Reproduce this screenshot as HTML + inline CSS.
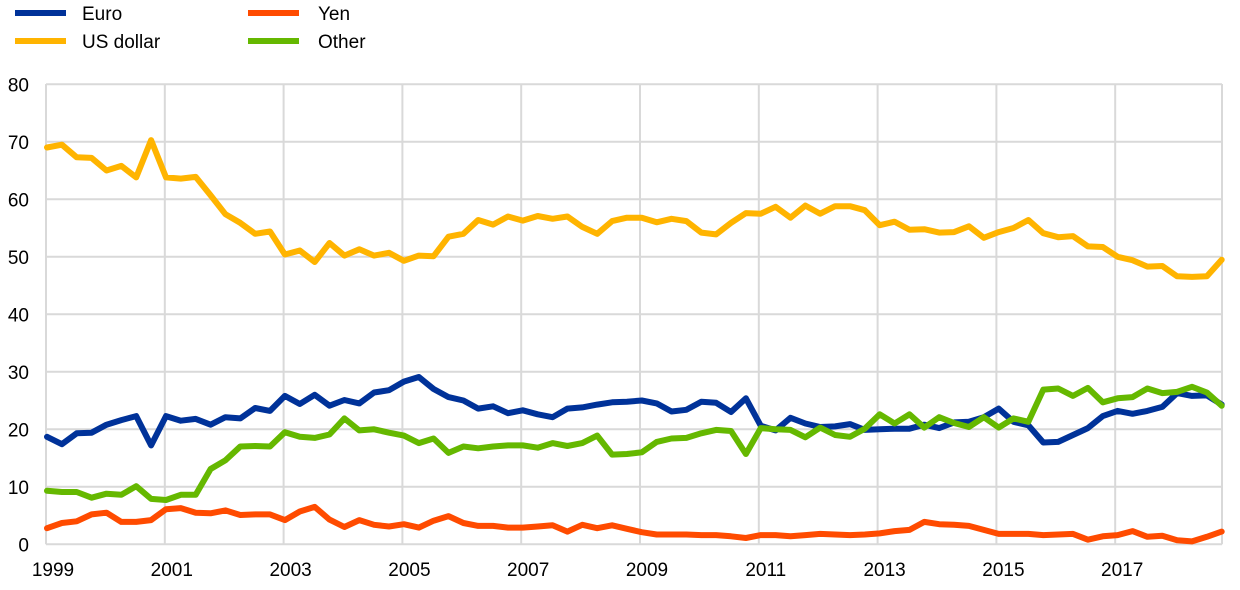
<!DOCTYPE html>
<html><head><meta charset="utf-8"><style>
html,body{margin:0;padding:0;background:#fff;}
svg{display:block;font-family:"Liberation Sans",Arial,sans-serif;}
</style></head><body>
<svg id="c" width="1240" height="590" xmlns="http://www.w3.org/2000/svg">
<g id="grid" stroke="#d9d9d9" stroke-width="2" fill="none"></g>
<g id="lab" font-size="19" fill="#000"></g>
<g id="ser" fill="none" stroke-width="6" stroke-linejoin="round" stroke-linecap="round"></g>
<g font-size="19" fill="#000">
<line x1="15" y1="13" x2="66" y2="13" stroke="#003299" stroke-width="6"/>
<text x="82" y="20">Euro</text>
<line x1="15" y1="41" x2="66" y2="41" stroke="#ffb400" stroke-width="6"/>
<text x="82" y="48">US dollar</text>
<line x1="248" y1="13" x2="299" y2="13" stroke="#ff4b00" stroke-width="6"/>
<text x="318" y="20">Yen</text>
<line x1="248" y1="41" x2="299" y2="41" stroke="#65b800" stroke-width="6"/>
<text x="318" y="48">Other</text>
</g>
</svg>
<script>
var NS="http://www.w3.org/2000/svg";
function el(p,t,a,txt){var e=document.createElementNS(NS,t);for(var k in a)e.setAttribute(k,a[k]);if(txt!=null)e.textContent=txt;document.getElementById(p).appendChild(e);}
var L=46,R=1222,Y0=544.3,S=5.75;
for(var v=0;v<=80;v+=10){var y=Y0-v*S;el("grid","line",{x1:L,x2:R,y1:y,y2:y});el("lab","text",{x:29,y:y+7,"text-anchor":"end"},v);}
for(var k=0;k<10;k++){var x=L+k*118.8;el("grid","line",{x1:x,x2:x,y1:84,y2:Y0});el("lab","text",{x:x+7,y:576,"text-anchor":"middle"},1999+2*k);}
el("grid","line",{x1:R,x2:R,y1:84,y2:Y0});
var D={
"#ffb400":[69,69.5,67.3,67.2,65,65.8,63.8,70.3,63.8,63.6,63.9,60.7,57.4,55.9,54,54.4,50.4,51.1,49.1,52.4,50.2,51.3,50.2,50.7,49.3,50.2,50.1,53.5,54.0,56.4,55.6,57.0,56.3,57.1,56.6,57.0,55.2,54.0,56.2,56.8,56.8,56.0,56.6,56.2,54.2,53.9,55.9,57.6,57.5,58.7,56.8,58.9,57.5,58.8,58.8,58.1,55.5,56.1,54.7,54.8,54.2,54.3,55.3,53.3,54.3,55.0,56.4,54.1,53.4,53.6,51.8,51.7,50.0,49.4,48.3,48.4,46.6,46.5,46.6,49.5],
"#65b800":[9.3,9.1,9.1,8.1,8.8,8.6,10.1,7.9,7.7,8.6,8.6,13.1,14.6,17.0,17.1,17.0,19.5,18.7,18.5,19.1,21.9,19.8,20.0,19.4,18.9,17.6,18.4,15.9,17.0,16.7,17.0,17.2,17.2,16.8,17.6,17.1,17.6,18.9,15.6,15.7,16.0,17.8,18.4,18.5,19.3,19.9,19.7,15.7,20.2,20.0,19.9,18.6,20.3,19.0,18.7,20.1,22.6,21.0,22.6,20.3,22.1,21.1,20.4,22.1,20.3,21.9,21.3,26.9,27.1,25.8,27.2,24.7,25.4,25.6,27.1,26.3,26.5,27.4,26.4,24.1],
"#003299":[18.7,17.4,19.3,19.4,20.8,21.6,22.3,17.2,22.3,21.5,21.8,20.8,22.1,21.9,23.7,23.2,25.8,24.4,26.0,24.1,25.1,24.5,26.4,26.8,28.3,29.1,27.0,25.6,25.0,23.6,24.0,22.8,23.3,22.6,22.1,23.6,23.8,24.3,24.7,24.8,25.0,24.5,23.1,23.4,24.8,24.6,23.0,25.4,20.6,19.8,22.0,21.0,20.4,20.5,20.9,19.9,20.0,20.1,20.1,20.8,20.2,21.2,21.3,22.1,23.6,21.3,20.7,17.7,17.8,19.0,20.2,22.3,23.2,22.7,23.2,23.9,26.3,25.8,25.9,24.3],
"#ff4b00":[2.8,3.7,4.0,5.2,5.5,3.9,3.9,4.2,6.1,6.3,5.5,5.4,5.9,5.1,5.2,5.2,4.2,5.7,6.5,4.3,3.0,4.2,3.4,3.1,3.5,2.9,4.1,4.9,3.7,3.2,3.2,2.9,2.9,3.1,3.3,2.2,3.4,2.8,3.3,2.7,2.1,1.7,1.7,1.7,1.6,1.6,1.4,1.1,1.6,1.6,1.4,1.6,1.8,1.7,1.6,1.7,1.9,2.3,2.5,3.9,3.5,3.4,3.2,2.5,1.8,1.8,1.8,1.6,1.7,1.8,0.8,1.4,1.6,2.3,1.3,1.5,0.7,0.5,1.3,2.2]};
var order=["#ffb400","#ff4b00","#003299","#65b800"];
order.forEach(function(c){var p=D[c].map(function(v,i){return (47+i*14.87).toFixed(1)+","+(Y0-v*S).toFixed(1);}).join(" ");el("ser","polyline",{points:p,stroke:c});});
</script>
</body></html>
